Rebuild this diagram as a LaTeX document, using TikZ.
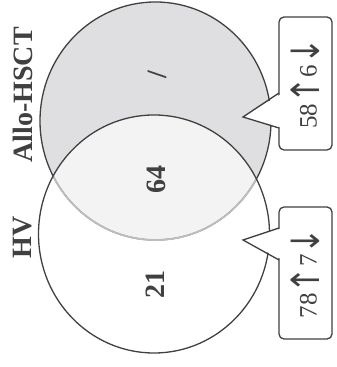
\documentclass[tikz,border=0pt]{standalone}
\usepackage{fontspec}
\setmainfont{Liberation Serif}
\newfontfamily\arrowfont{DejaVu Sans}
\definecolor{ink}{HTML}{404040}
\definecolor{allofill}{HTML}{DFDFE1}
\definecolor{bothfill}{HTML}{F3F3F3}
\definecolor{softline}{HTML}{BDBDBD}

\newcommand{\upar}{\raisebox{-1.5pt}{\scalebox{1.05}[1.3]{\arrowfont\fontsize{15}{15}\selectfont ↑}}}
\newcommand{\dnar}{\raisebox{-1.5pt}{\scalebox{1.05}[1.3]{\arrowfont\fontsize{15}{15}\selectfont ↓}}}

\tikzset{
  setlabel/.style={font=\bfseries\fontsize{14}{16}\selectfont,text=ink,rotate=90},
  countlabel/.style={font=\bfseries\fontsize{14}{16}\selectfont,text=ink,rotate=90},
  callbox/.style={draw=ink,fill=white,line width=0.65pt,rounded corners=2.5pt,rotate=90,
    minimum height=26.5pt,inner sep=0pt,text=ink,font=\fontsize{12.5}{14}\selectfont},
  pointer/.style={draw=ink,line width=0.65pt},
}

\begin{document}
\begin{tikzpicture}[x=0.5pt,y=0.5pt]
\useasboundingbox (0,0) rectangle (336,367);

\coordinate (allo) at (155.5,246);
\coordinate (hv) at (154,133);

% the two sets
\fill[allofill] (allo) ellipse [x radius=115.5,y radius=119];
\begin{scope}
  \clip (allo) ellipse [x radius=115.5,y radius=119];
  \fill[bothfill] (hv) ellipse [x radius=115.5,y radius=119];
\end{scope}
\draw[ink,line width=0.65pt] (allo) ellipse [x radius=115.5,y radius=119];
\begin{scope}
  \clip (hv) ellipse [x radius=115.5,y radius=119];
  \draw[softline,line width=0.9pt] (allo) ellipse [x radius=115.5,y radius=119];
\end{scope}
\draw[ink,line width=0.65pt] (hv) ellipse [x radius=115.5,y radius=119];

% labels
\node[setlabel] (allolabel) at (22.5,272) {Allo-HSCT};
\node[setlabel] (hvlabel) at (22.5,129.5) {HV};
\node[countlabel] (alloonly) at (157,292) {/};
\node[countlabel] (both) at (156,187) {64};
\node[countlabel] (hvonly) at (155,82) {21};

% callouts
\node[callbox,minimum width=66.5pt] (upbox) at (305.5,283.5) {58\upar6\dnar};
\node[callbox,minimum width=66pt] (dnbox) at (305.5,94) {78\upar7\dnar};

\coordinate (upa) at (279,274);
\coordinate (upb) at (279,239);
\coordinate (uptip) at (243,250);
\coordinate (dna) at (279,139);
\coordinate (dnb) at (279,107);
\coordinate (dntip) at (243,127);

\fill[white] ([xshift=2pt]upa) -- (uptip) -- ([xshift=2pt]upb) -- cycle;
\draw[pointer] (upa) -- (uptip) -- (upb);
\fill[white] ([xshift=2pt]dna) -- (dntip) -- ([xshift=2pt]dnb) -- cycle;
\draw[pointer] (dna) -- (dntip) -- (dnb);
\end{tikzpicture}
\end{document}
